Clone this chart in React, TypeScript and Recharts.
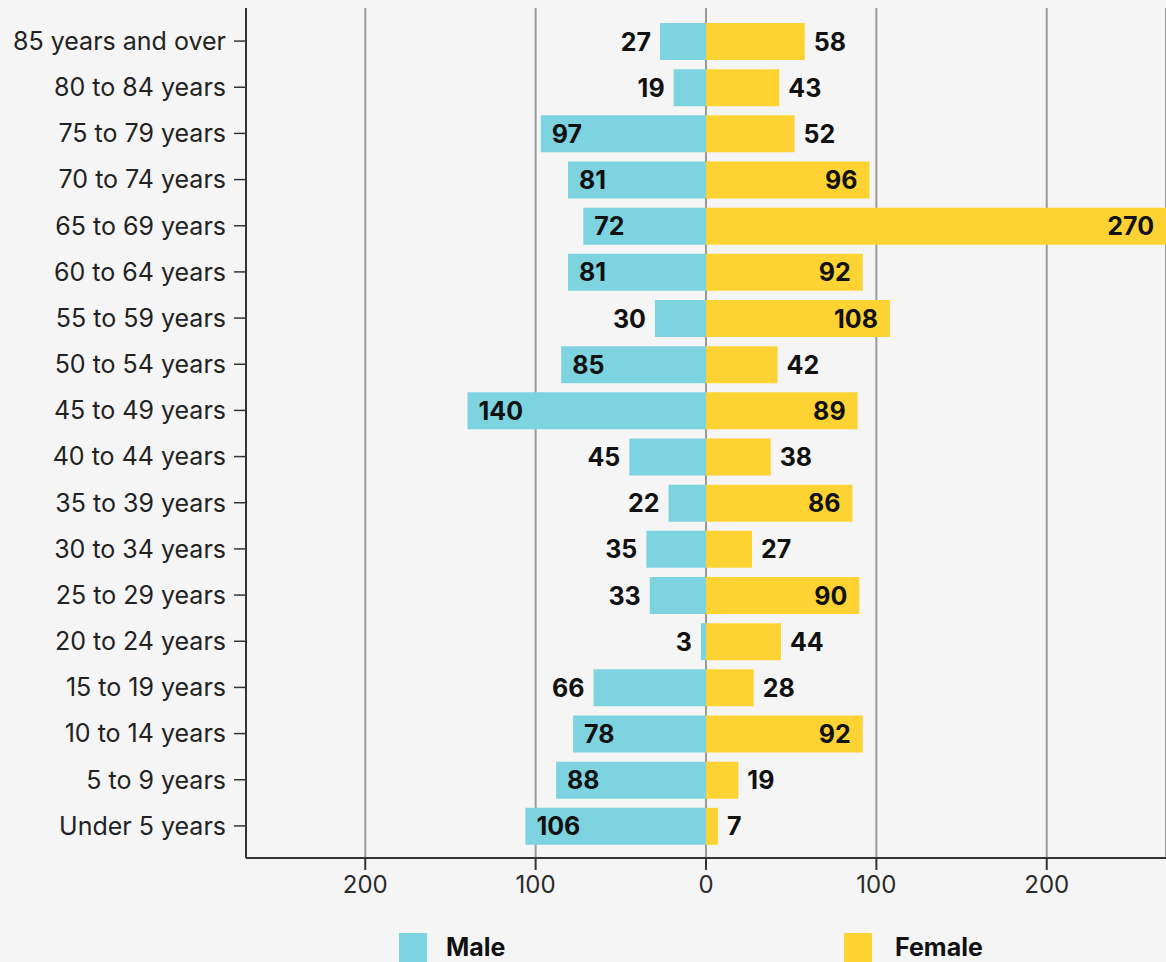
import React from "react";
import { BarChart, Bar, XAxis, YAxis, CartesianGrid, LabelList } from "recharts";

const AGE_GROUPS = [
    "85 years and over",
    "80 to 84 years",
    "75 to 79 years",
    "70 to 74 years",
    "65 to 69 years",
    "60 to 64 years",
    "55 to 59 years",
    "50 to 54 years",
    "45 to 49 years",
    "40 to 44 years",
    "35 to 39 years",
    "30 to 34 years",
    "25 to 29 years",
    "20 to 24 years",
    "15 to 19 years",
    "10 to 14 years",
    "5 to 9 years",
    "Under 5 years",
];

const MALE = [27, 19, 97, 81, 72, 81, 30, 85, 140, 45, 22, 35, 33, 3, 66, 78, 88, 106];
const FEMALE = [58, 43, 52, 96, 270, 92, 108, 42, 89, 38, 86, 27, 90, 44, 28, 92, 19, 7];

const X_TICKS = [-200, -100, 0, 100, 200];

const MALE_COLOR = "#7dd3e0";
const FEMALE_COLOR = "#fdd333";
const FONT = "Inter, 'Noto Sans', sans-serif";

const data = AGE_GROUPS.map((age, i) => ({ age, male: -MALE[i], female: FEMALE[i] }));

// labels sit inside the bar when it is long enough, outside otherwise
const makeLabel = (side: "male" | "female") => (props: any) => {
    const x = Number(props.x);
    const y = Number(props.y);
    const width = Number(props.width);
    const height = Number(props.height);
    const v = Math.abs(Number(props.value));
    const left = Math.min(x, x + width);
    const right = Math.max(x, x + width);
    const inside = v >= 70;
    let tx: number;
    let anchor: "start" | "end";
    if (side === "male") {
        tx = inside ? left + 11 : left - 9;
        anchor = inside ? "start" : "end";
    } else {
        tx = inside ? right - 12 : right + 9;
        anchor = inside ? "end" : "start";
    }
    return (
        <text x={tx} y={y + height / 2} dy="0.36em" textAnchor={anchor}
            fontSize={25} fontWeight={700} fill="#111" fontFamily={FONT}>
            {v}
        </text>
    );
};

const App: React.FC = () => {
    return (
        <div style={{ position: "fixed", left: 0, top: 0, width: 1166, height: 962, background: "#f5f5f5", overflow: "hidden" }}>
            <BarChart
                width={1166}
                height={962}
                data={data}
                layout="vertical"
                stackOffset="sign"
                barSize={37}
                margin={{ top: 8, right: 0, bottom: 54, left: 0 }}
            >
                <CartesianGrid horizontal={false} stroke="#9a9a9a" strokeWidth={2} />
                <XAxis
                    type="number"
                    domain={[-270, 270]}
                    ticks={X_TICKS}
                    allowDataOverflow
                    tickFormatter={(v) => String(Math.abs(v))}
                    axisLine={{ stroke: "#333", strokeWidth: 2 }}
                    tickLine={{ stroke: "#333", strokeWidth: 2 }}
                    tickSize={12}
                    tickMargin={6}
                    tick={{ fill: "#2a2a2a", fontSize: 24, fontFamily: FONT }}
                    height={50}
                />
                <YAxis
                    type="category"
                    dataKey="age"
                    width={246}
                    padding={{ top: 10, bottom: 9 }}
                    axisLine={{ stroke: "#333", strokeWidth: 2 }}
                    tickLine={{ stroke: "#333", strokeWidth: 1.5 }}
                    tickSize={12}
                    tickMargin={8}
                    interval={0}
                    tick={{ fill: "#222", fontSize: 25, fontFamily: FONT }}
                />
                <Bar dataKey="male" stackId="a" fill={MALE_COLOR} isAnimationActive={false}>
                    <LabelList dataKey="male" content={makeLabel("male")} />
                </Bar>
                <Bar dataKey="female" stackId="a" fill={FEMALE_COLOR} isAnimationActive={false}>
                    <LabelList dataKey="female" content={makeLabel("female")} />
                </Bar>
            </BarChart>
            <div style={{ position: "absolute", left: 399, top: 933, width: 28, height: 29, background: MALE_COLOR }}></div>
            <div style={{ position: "absolute", left: 446, top: 934, fontFamily: FONT, fontWeight: 700, fontSize: 25, color: "#111", lineHeight: "26px" }}>Male</div>
            <div style={{ position: "absolute", left: 844, top: 933, width: 28, height: 29, background: FEMALE_COLOR }}></div>
            <div style={{ position: "absolute", left: 895, top: 934, fontFamily: FONT, fontWeight: 700, fontSize: 25, color: "#111", lineHeight: "26px" }}>Female</div>
        </div>
    );
};

export default App;
